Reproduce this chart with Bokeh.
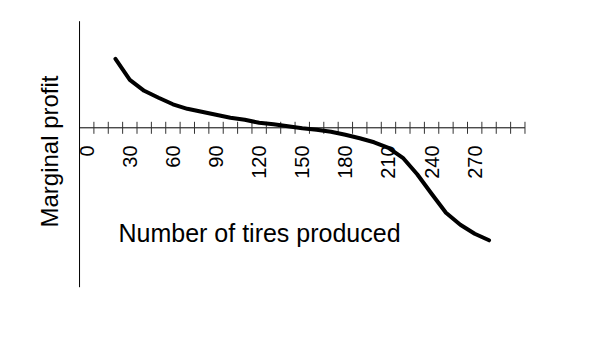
import math
from bokeh.plotting import figure
from bokeh.embed import file_html
from bokeh.resources import INLINE
from bokeh.core.properties import value

# ---- data ----
tires = [20, 30, 40, 50, 60, 70, 80, 90, 100, 110, 120, 130, 140, 150,
         160, 170, 180, 190, 200, 210, 220, 230, 240, 250, 260, 270, 280]
marginal_profit = [69, 48, 37, 30, 23.5, 19, 16, 13, 10, 8, 5, 3.5, 1.5, -0.5,
                   -2, -4, -7, -10.5, -14.5, -20, -30, -46.5, -66, -85, -97, -106, -112.5]
tick_labels = [0, 30, 60, 90, 120, 150, 180, 210, 240, 270]
tick_marks = list(range(5, 306, 10))
x_axis_start, x_axis_end = -5, 305
y_axis_top, y_axis_bottom = 106.6, -159.4

FONT = value("Liberation Sans")

p = figure(width=601, height=357, output_backend="svg", toolbar_location=None,
           x_range=(-60.0, 358.25), y_range=(-229.7, 127.3),
           min_border=0, outline_line_color=None)
p.axis.visible = False
p.grid.visible = False
p.background_fill_color = "white"
p.border_fill_color = "white"

# axes lines
p.segment(x0=[x_axis_start], y0=[0], x1=[x_axis_end], y1=[0], line_color="black", line_width=1)
p.segment(x0=[x_axis_start], y0=[y_axis_top], x1=[x_axis_start], y1=[y_axis_bottom],
          line_color="black", line_width=1)

# tick marks crossing the horizontal axis
p.segment(x0=tick_marks, y0=[6] * len(tick_marks), x1=tick_marks, y1=[-6] * len(tick_marks),
          line_color="#333333", line_width=1)

# tick labels, rotated
p.text(x=tick_labels, y=[-17.7] * len(tick_labels), text=[str(v) for v in tick_labels],
       angle=math.pi / 2, text_align="right", text_baseline="middle",
       text_font=FONT, text_font_size="20px", text_color="black")

# curve
p.line(tires, marginal_profit, line_color="black", line_width=4,
       line_join="round", line_cap="round")

# axis titles
p.text(x=[22.1], y=[-105.5], text=["Number of tires produced"],
       text_align="left", text_baseline="alphabetic",
       text_font=FONT, text_font_size="25px", text_color="black")
p.text(x=[-26.2], y=[-23.7], text=["Marginal profit"], angle=math.pi / 2,
       text_align="center", text_baseline="alphabetic",
       text_font=FONT, text_font_size="24px", text_color="black")

open("out.html", "w").write(file_html(p, INLINE))
